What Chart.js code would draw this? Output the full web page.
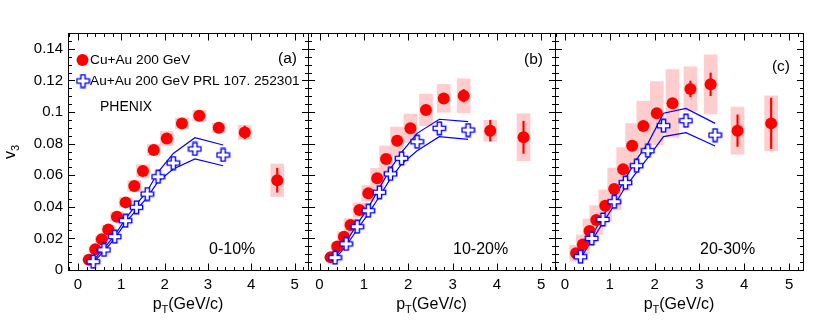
<!DOCTYPE html>
<html>
<head>
<meta charset="utf-8">
<script src="https://cdn.jsdelivr.net/npm/chart.js@4"></script>
<style>
  body { margin: 0; background: #fff; }
  #wrap { position: relative; width: 830px; height: 327px; }
  #wrap canvas { position: absolute; left: 0; top: 0; }
</style>
</head>
<body>
<div id="wrap">
  <canvas id="pa" width="830" height="327"></canvas>
  <canvas id="pb" width="830" height="327"></canvas>
  <canvas id="pc" width="830" height="327"></canvas>
</div>
<script>
// pT bins
const ptCuAu = [0.25, 0.4, 0.55, 0.7, 0.9, 1.1, 1.3, 1.5, 1.75, 2.05, 2.4, 2.8, 3.25, 3.85, 4.6];
const ptAuAu = [0.35, 0.6, 0.85, 1.1, 1.35, 1.6, 1.85, 2.2, 2.7, 3.35];

// Cu+Au v3 (0-10, 10-20, 20-30 %)
const cuau_a = [0.0065, 0.0131, 0.0194, 0.0257, 0.0337, 0.0428, 0.0532, 0.0627, 0.076, 0.0833, 0.0928, 0.0977, 0.090, 0.0871, 0.0568];
const cuau_b = [0.0080, 0.0148, 0.0211, 0.0285, 0.038, 0.0485, 0.058, 0.0703, 0.0818, 0.0897, 0.1013, 0.1086, 0.1103, 0.0882, 0.0840];
const cuau_c = [0.0106, 0.0162, 0.0247, 0.0316, 0.0407, 0.0513, 0.0637, 0.0787, 0.0911, 0.0992, 0.1055, 0.1146, 0.1175, 0.0882, 0.0928];
// stat errors
const stat_a = [0.0004, 0.0004, 0.0004, 0.0004, 0.0005, 0.0005, 0.0006, 0.0007, 0.0008, 0.001, 0.0012, 0.0015, 0.002, 0.004, 0.0076];
const stat_b = [0.0005, 0.0005, 0.0005, 0.0006, 0.0007, 0.0008, 0.0009, 0.001, 0.0012, 0.0015, 0.0018, 0.0022, 0.004, 0.0066, 0.0102];
const stat_c = [0.0006, 0.0006, 0.0006, 0.0007, 0.0008, 0.0009, 0.001, 0.0012, 0.0015, 0.002, 0.0025, 0.005, 0.0072, 0.01, 0.016];
// sys errors (boxes)
const sys_a = [0.001, 0.0015, 0.002, 0.0025, 0.003, 0.003, 0.0035, 0.004, 0.0035, 0.0045, 0.0035, 0.0035, 0.003, 0.0045, 0.0103];
const sys_b = [0.001, 0.002, 0.003, 0.004, 0.0045, 0.005, 0.0063, 0.0082, 0.0087, 0.009, 0.01, 0.0088, 0.0107, 0.0066, 0.0149];
const sys_c = [0.005, 0.006, 0.0076, 0.0092, 0.01, 0.0132, 0.0137, 0.014, 0.0158, 0.02, 0.0214, 0.014, 0.0187, 0.0149, 0.0174];

// Au+Au v3 PRL 107.252301 + sys band
const auau_a = [0.0053, 0.0127, 0.0211, 0.0312, 0.0397, 0.0481, 0.059, 0.0677, 0.0766, 0.0728];
const auau_b = [0.0078, 0.0165, 0.0274, 0.0375, 0.0492, 0.0608, 0.0707, 0.0812, 0.0897, 0.0886];
const auau_c = [0.0084, 0.020, 0.032, 0.0432, 0.0553, 0.066, 0.0755, 0.0913, 0.0945, 0.0854];
const bandUp_a = [0.006, 0.0135, 0.022, 0.0325, 0.0415, 0.050, 0.062, 0.0738, 0.0837, 0.0791];
const bandLo_a = [0.0048, 0.0118, 0.020, 0.030, 0.038, 0.046, 0.056, 0.0639, 0.0703, 0.066];
const bandUp_b = [0.0085, 0.0178, 0.029, 0.0395, 0.052, 0.064, 0.0745, 0.0865, 0.0954, 0.0939];
const bandLo_b = [0.0072, 0.0152, 0.0258, 0.0355, 0.0465, 0.0578, 0.067, 0.0755, 0.0844, 0.0827];
const bandUp_c = [0.0092, 0.0215, 0.034, 0.0458, 0.058, 0.070, 0.080, 0.0992, 0.1023, 0.0928];
const bandLo_c = [0.0076, 0.0185, 0.030, 0.041, 0.0525, 0.062, 0.071, 0.0844, 0.0869, 0.0785];

// ticks
const xTicks = [0, 1, 2, 3, 4, 5];
const yTicks = [0, 0.02, 0.04, 0.06, 0.08, 0.1, 0.12, 0.14];

const FONT = "'Liberation Sans', Arial, Helvetica, sans-serif";
Chart.defaults.font.family = FONT;
Chart.defaults.color = '#000';

// open cross marker (ROOT style 28)
function makeCross() {
  const c = document.createElement('canvas');
  c.width = 15; c.height = 15;
  const g = c.getContext('2d');
  const m = 7.5, L = 6.2, w = 2.1;
  g.beginPath();
  g.moveTo(m - w, m - L); g.lineTo(m + w, m - L); g.lineTo(m + w, m - w);
  g.lineTo(m + L, m - w); g.lineTo(m + L, m + w); g.lineTo(m + w, m + w);
  g.lineTo(m + w, m + L); g.lineTo(m - w, m + L); g.lineTo(m - w, m + w);
  g.lineTo(m - L, m + w); g.lineTo(m - L, m - w); g.lineTo(m - w, m - w);
  g.closePath();
  g.fillStyle = '#fff'; g.fill();
  g.strokeStyle = '#0000ff'; g.lineWidth = 1.4; g.stroke();
  return c;
}
const crossImg = makeCross();

const zip = (xs, ys) => xs.map((x, i) => ({ x: x, y: ys[i] }));
const zipErr = (xs, ys, es) => xs.map((x, i) => ({ x: x, y: [ys[i] - es[i], ys[i] + es[i]] }));

// frame + inward ticks on all four sides
const framePlugin = {
  id: 'frame',
  afterDraw(chart) {
    const ctx = chart.ctx, a = chart.chartArea;
    const xs = chart.scales.x, ys = chart.scales.y;
    const l = Math.round(a.left) + 0.5, r = Math.round(a.right) + 0.5;
    const t = Math.round(a.top) + 0.5, b = Math.round(a.bottom) + 0.5;
    ctx.save();
    ctx.strokeStyle = '#000';
    ctx.lineWidth = 1;
    ctx.beginPath();
    for (let i = -1; i <= 26; i++) {
      const v = i * 0.2;
      if (v < xs.min || v > xs.max) continue;
      const px = Math.round(xs.getPixelForValue(v)) + 0.5;
      const len = (i % 5 === 0) ? 7 : 3.5;
      ctx.moveTo(px, b); ctx.lineTo(px, b - len);
      ctx.moveTo(px, t); ctx.lineTo(px, t + len);
    }
    for (let i = 0; i <= 30; i++) {
      const v = i * 0.005;
      if (v > ys.max) continue;
      const py = Math.round(ys.getPixelForValue(v)) + 0.5;
      const len = (i % 4 === 0) ? 6.5 : 3.5;
      ctx.moveTo(l, py); ctx.lineTo(l + len, py);
      ctx.moveTo(r, py); ctx.lineTo(r - len, py);
    }
    ctx.stroke();
    ctx.strokeRect(l, t, r - l, b - t);

    // x title p_T(GeV/c)
    const cx = (a.left + a.right) / 2;
    ctx.fillStyle = '#000';
    ctx.textBaseline = 'alphabetic';
    ctx.font = '16px ' + FONT;
    const w1 = ctx.measureText('p').width;
    const w3 = ctx.measureText('(GeV/c)').width;
    ctx.font = '11px ' + FONT;
    const w2 = ctx.measureText('T').width;
    let x0 = cx - (w1 + w2 + w3) / 2;
    const base = 309;
    ctx.font = '16px ' + FONT;
    ctx.fillText('p', x0, base);
    ctx.font = '11px ' + FONT;
    ctx.fillText('T', x0 + w1, base + 4);
    ctx.font = '16px ' + FONT;
    ctx.fillText('(GeV/c)', x0 + w1 + w2, base);
    ctx.restore();
  }
};

// free texts per panel
const textPlugin = {
  id: 'texts',
  afterDraw(chart, args, opts) {
    const ctx = chart.ctx;
    ctx.save();
    ctx.fillStyle = '#000';
    ctx.textBaseline = 'middle';
    (opts.items || []).forEach(it => {
      ctx.font = it.size + 'px ' + FONT;
      ctx.textAlign = it.align || 'left';
      ctx.fillText(it.text, it.x, it.y);
    });
    if (opts.legend) {
      ctx.beginPath();
      ctx.arc(82.5, 60, 6, 0, Math.PI * 2);
      ctx.fillStyle = '#ff0000';
      ctx.fill();
      ctx.drawImage(crossImg, 83 - 7.5, 81 - 7.5);
    }
    if (opts.ytitle) {
      ctx.translate(15, 152);
      ctx.rotate(-Math.PI / 2);
      ctx.fillStyle = '#000';
      ctx.textAlign = 'left';
      ctx.textBaseline = 'alphabetic';
      ctx.font = '16px ' + FONT;
      const wv = ctx.measureText('v').width;
      ctx.font = '11px ' + FONT;
      const w3 = ctx.measureText('3').width;
      const s = -(wv + w3) / 2;
      ctx.font = '16px ' + FONT;
      ctx.fillText('v', s, 0);
      ctx.font = '11px ' + FONT;
      ctx.fillText('3', s + wv, 4);
    }
    ctx.restore();
  }
};

function makePanel(id, cfg) {
  new Chart(document.getElementById(id), {
    type: 'scatter',
    data: {
      datasets: [
        {
          type: 'bar', data: zipErr(ptCuAu, cfg.cuau, cfg.sys),
          backgroundColor: '#ffcdcd', borderWidth: 0, barThickness: 13, grouped: false, order: 5
        },
        {
          data: zip(ptAuAu, cfg.up), showLine: true, pointRadius: 0,
          borderColor: '#0000ff', borderWidth: 1.2, order: 4
        },
        {
          data: zip(ptAuAu, cfg.lo), showLine: true, pointRadius: 0,
          borderColor: '#0000ff', borderWidth: 1.2, order: 4
        },
        {
          data: zip(ptCuAu, cfg.cuau), pointRadius: 6, pointBackgroundColor: '#ff0000',
          pointBorderWidth: 0, order: 3
        },
        {
          type: 'bar', data: zipErr(ptCuAu, cfg.cuau, cfg.stat),
          backgroundColor: '#ff0000', borderWidth: 0, barThickness: 1.5, grouped: false, order: 2
        },
        {
          data: zip(ptAuAu, cfg.auau), pointStyle: crossImg, order: 1
        }
      ]
    },
    options: {
      responsive: false,
      animation: false,
      events: [],
      layout: { padding: { left: cfg.padL, right: 830 - cfg.right, top: 33, bottom: 0 } },
      scales: {
        x: {
          type: 'linear', min: cfg.xmin, max: 5.31, offset: false,
          grid: { display: false, offset: false },
          border: { display: false },
          afterBuildTicks: s => { s.ticks = xTicks.map(v => ({ value: v })); },
          afterFit: s => { s.height = 57; },
          ticks: { font: { size: 15 }, padding: -2, autoSkip: false, maxRotation: 0 }
        },
        y: {
          display: cfg.showY, min: 0, max: 0.15,
          grid: { display: false, drawTicks: false },
          border: { display: false },
          afterBuildTicks: s => { s.ticks = yTicks.map(v => ({ value: v })); },
          afterFit: s => { s.width = cfg.showY ? 68 : 0; },
          ticks: { font: { size: 15 }, padding: 5, callback: v => String(+v.toFixed(2)) }
        }
      },
      plugins: {
        legend: { display: false },
        tooltip: { enabled: false },
        texts: { items: cfg.texts, legend: cfg.legend, ytitle: cfg.showY }
      }
    },
    plugins: [framePlugin, textPlugin]
  });
}

makePanel('pa', {
  padL: 0, right: 308, xmin: -0.23, showY: true, legend: true,
  cuau: cuau_a, stat: stat_a, sys: sys_a, auau: auau_a, up: bandUp_a, lo: bandLo_a,
  texts: [
    { text: 'Cu+Au 200 GeV', x: 90, y: 60, size: 13.7 },
    { text: 'Au+Au 200 GeV PRL 107. 252301', x: 90, y: 81, size: 13.7 },
    { text: 'PHENIX', x: 100, y: 107, size: 14 },
    { text: '(a)', x: 297, y: 59, size: 15.5, align: 'right' },
    { text: '0-10%', x: 209, y: 250, size: 16 }
  ]
});
makePanel('pb', {
  padL: 308, right: 555, xmin: -0.26, showY: false, legend: false,
  cuau: cuau_b, stat: stat_b, sys: sys_b, auau: auau_b, up: bandUp_b, lo: bandLo_b,
  texts: [
    { text: '(b)', x: 543, y: 60, size: 15.5, align: 'right' },
    { text: '10-20%', x: 453, y: 250, size: 16 }
  ]
});
makePanel('pc', {
  padL: 555, right: 803, xmin: -0.22, showY: false, legend: false,
  cuau: cuau_c, stat: stat_c, sys: sys_c, auau: auau_c, up: bandUp_c, lo: bandLo_c,
  texts: [
    { text: '(c)', x: 790, y: 67, size: 15.5, align: 'right' },
    { text: '20-30%', x: 700, y: 250, size: 16 }
  ]
});
</script>
</body>
</html>
